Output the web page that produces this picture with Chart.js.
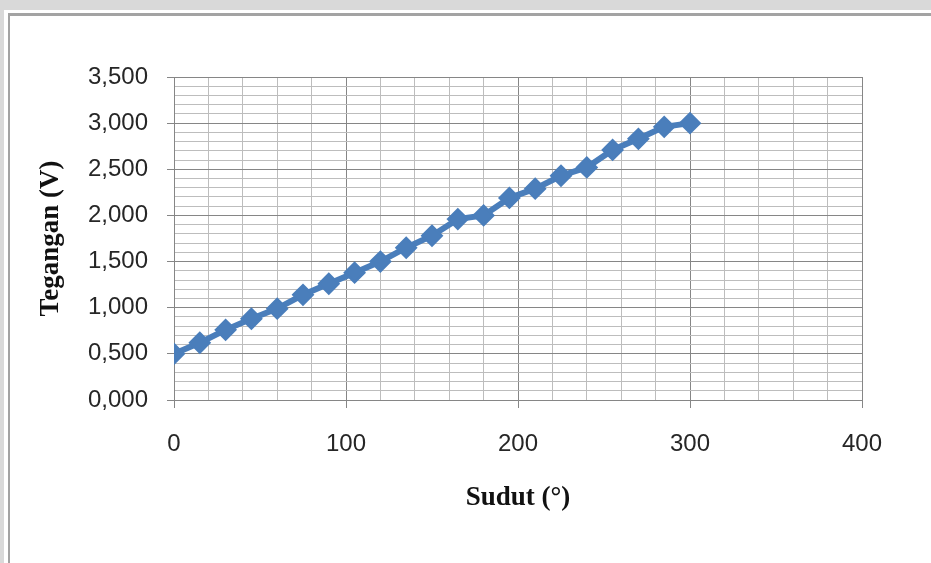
<!DOCTYPE html>
<html>
<head>
<meta charset="utf-8">
<script src="https://cdn.jsdelivr.net/npm/chart.js"></script>
<style>
  html, body { margin: 0; padding: 0; }
  body { width: 931px; height: 563px; background: #d9d9d9; position: relative; overflow: hidden; }
  #panel { position: absolute; left: 4px; top: 10px; width: 940px; height: 570px; background: #fff; }
  #frame { position: absolute; left: 8px; top: 13px; width: 940px; height: 570px;
           border-left: 2px solid #a3a3a3; border-top: 3px solid #a3a3a3; }
  #holder { position: absolute; left: 0; top: 0; width: 931px; height: 563px; }
</style>
</head>
<body>
<div id="panel"></div>
<div id="frame"></div>
<div id="holder"><canvas id="myChart" width="931" height="563"></canvas></div>
<script>
// angle in degrees
let sudut = [0, 15, 30, 45, 60, 75, 90, 105, 120, 135, 150, 165, 180, 195, 210, 225, 240, 255, 270, 285, 300]
// voltage
let tegangan = [0.50, 0.62, 0.76, 0.88, 0.99, 1.14, 1.26, 1.38, 1.50, 1.65, 1.78, 1.96, 2.00, 2.19, 2.29, 2.43, 2.52, 2.71, 2.83, 2.96, 3.00]

let xTicks = [0, 100, 200, 300, 400]
let yTicks = ["0,000", "0,500", "1,000", "1,500", "2,000", "2,500", "3,000", "3,500"]

let points = sudut.map(function (s, i) { return { x: s, y: tegangan[i] } })

let majorGrid = '#868686'
let minorGrid = '#bdbdbd'

function isMajorX(v) { return xTicks.indexOf(Math.round(v)) !== -1 }
function isMajorY(v) { return Math.round(v * 10) % 5 === 0 }

let ctx = document.getElementById('myChart').getContext('2d')
let chart = new Chart(ctx, {
    type: 'line',
    data: {
        datasets: [{
            label: 'Tegangan',
            data: points,
            borderColor: '#4a7ebb',
            backgroundColor: '#4a7ebb',
            borderWidth: 6,
            pointStyle: 'rectRot',
            pointRadius: 10,
            pointBorderWidth: 2,
            tension: 0
        }]
    },
    options: {
        responsive: false,
        animation: false,
        layout: { padding: { top: 77, right: 69, left: 0, bottom: 0 } },
        plugins: { legend: { display: false }, tooltip: { enabled: false } },
        scales: {
            x: {
                type: 'linear',
                min: 0,
                max: 400,
                afterFit: function (scale) { scale.height = 163 },
                ticks: {
                    stepSize: 20,
                    autoSkip: false,
                    maxRotation: 0,
                    padding: 22,
                    color: '#262626',
                    font: { family: 'Liberation Sans', size: 24 },
                    callback: function (v) { return isMajorX(v) ? String(Math.round(v)) : '' }
                },
                grid: {
                    color: function (c) { return isMajorX(c.tick.value) ? majorGrid : minorGrid },
                    tickColor: function (c) { return isMajorX(c.tick.value) ? majorGrid : 'rgba(0,0,0,0)' },
                    tickLength: 8,
                    lineWidth: 1
                },
                border: { color: '#868686', width: 1 },
                title: {
                    display: true,
                    text: 'Sudut (°)',
                    color: '#111',
                    font: { family: 'Liberation Serif', size: 27, weight: 'bold' },
                    padding: { top: 0, bottom: 49 }
                }
            },
            y: {
                type: 'linear',
                min: 0,
                max: 3.5,
                afterFit: function (scale) { scale.width = 174 },
                ticks: {
                    stepSize: 0.1,
                    autoSkip: false,
                    padding: 19,
                    color: '#262626',
                    font: { family: 'Liberation Sans', size: 24 },
                    callback: function (v) { return isMajorY(v) ? yTicks[Math.round(v * 2)] : '' }
                },
                grid: {
                    color: function (c) { return isMajorY(c.tick.value) ? majorGrid : minorGrid },
                    tickColor: function (c) { return isMajorY(c.tick.value) ? majorGrid : 'rgba(0,0,0,0)' },
                    tickLength: 7,
                    lineWidth: 1
                },
                border: { color: '#868686', width: 1 },
                title: {
                    display: true,
                    text: 'Tegangan (V)',
                    color: '#111',
                    font: { family: 'Liberation Serif', size: 27, weight: 'bold' },
                    padding: { top: 35, bottom: 0 }
                }
            }
        }
    }
})
</script>
</body>
</html>
